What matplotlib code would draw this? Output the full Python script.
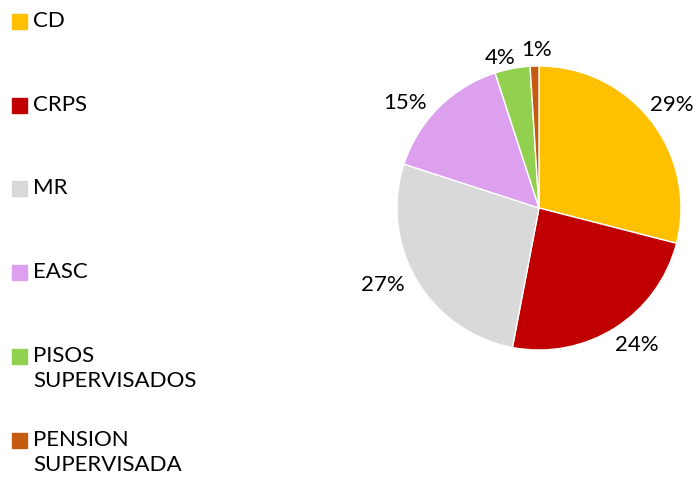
import matplotlib
matplotlib.use('Agg')
import matplotlib.pyplot as plt
from matplotlib.patches import Rectangle

categories = ['CD', 'CRPS', 'MR', 'EASC', 'PISOS\nSUPERVISADOS', 'PENSION\nSUPERVISADA']
values = [29, 24, 27, 15, 4, 1]
colors = ['#FFC000', '#C00000', '#D9D9D9', '#DDA0EE', '#92D050', '#C55A11']

plt.rcParams['font.family'] = ['Lato', 'DejaVu Sans']

fig = plt.figure(figsize=(6.98, 4.84), dpi=100)
ax = fig.add_axes([0, 0, 1, 1])

wedges, texts, autotexts = ax.pie(values, colors=colors, startangle=90, counterclock=False,
                                  center=(539, 276), radius=142, frame=True,
                                  autopct=lambda p: f'{p:.0f}%', pctdistance=1.17,
                                  wedgeprops=dict(linewidth=1.0, edgecolor='white'),
                                  textprops=dict(fontsize=16, color='black'))
ax.set_xlim(0, 698)
ax.set_ylim(0, 484)
ax.set_aspect('equal')
ax.axis('off')

# percentage labels placed like the Excel "best fit" layout
label_pos = [(672, 379), (637, 139), (383, 199), (405, 381), (500, 426), (537, 434)]
for t, (x, y) in zip(autotexts, label_pos):
    t.set_position((x, y))
    t.set_ha('center')
    t.set_va('center')

# legend on the left, drawn by hand
rows_y = [463, 379, 296, 212, 128, 44]
for lab, col, y in zip(categories, colors, rows_y):
    ax.add_patch(Rectangle((12, y - 7.5), 15, 15, color=col))
    ax.text(33, y + 10, lab, fontsize=16, va='top', ha='left', linespacing=1.3)

fig.savefig('out.png', dpi=100)
